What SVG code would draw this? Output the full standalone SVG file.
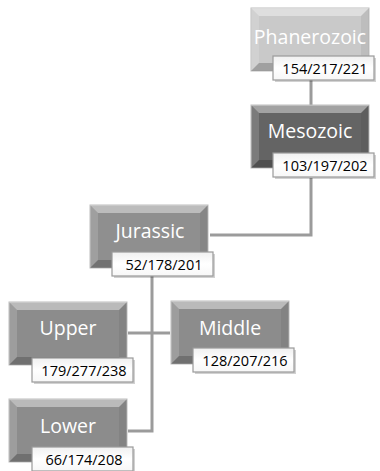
<svg xmlns="http://www.w3.org/2000/svg" width="380" height="471" viewBox="0 0 380 471">
<defs>
<style>
.bx{stroke:#bdbdbd;stroke-width:1}
.t{font-family:"Open Sans","Noto Sans","Liberation Sans",sans-serif;font-size:19.5px;fill:#ffffff;text-anchor:middle}
.lt{font-family:"Open Sans","Noto Sans","Liberation Sans",sans-serif;font-size:14.5px;fill:#000000;text-anchor:middle}
.lb{fill:url(#lg);stroke:#9a9a9a;stroke-width:1.2}
.sh{fill:#000;opacity:0.18}
.cn{fill:none;stroke:#9b9b9b;stroke-width:3}
</style>
<linearGradient id="lg" x1="0" y1="0" x2="0" y2="1">
<stop offset="0" stop-color="#f0f0f0"/>
<stop offset="0.5" stop-color="#ffffff"/>
<stop offset="1" stop-color="#f7f7f7"/>
</linearGradient>
<g id="bev">
<polygon points="0,0 118,0 110,8 8,8" fill="#fff" fill-opacity="0.4"/>
<polygon points="0,0 8,8 8,55 0,63" fill="#fff" fill-opacity="0.15"/>
<polygon points="118,0 118,63 110,55 110,8" fill="#000" fill-opacity="0.06"/>
<polygon points="0,63 8,55 110,55 118,63" fill="#000" fill-opacity="0.2"/>
</g>
<g id="lbl">
<rect x="2" y="2" width="101" height="24" class="sh"/>
<rect x="0" y="0" width="101" height="24" class="lb"/>
</g>
</defs>
<rect width="380" height="471" fill="#ffffff"/>
<g id="connectors">
<line x1="311" y1="80" x2="311" y2="105" class="cn"/>
<polyline points="311,178 311,235 210,235" class="cn"/>
<polyline points="152,276 152,431 128,431" class="cn"/>
<line x1="128" y1="333" x2="170" y2="333" class="cn"/>
</g>
<g id="phanerozoic" transform="translate(251,8)">
<rect width="118" height="63" fill="#c9c9c9" class="bx"/>
<use href="#bev"/>
<text x="59" y="36" class="t">Phanerozoic</text>
<g transform="translate(22,48)"><use href="#lbl"/><text x="52" y="17.5" class="lt">154/217/221</text></g>
</g>
<g id="mesozoic" transform="translate(251,105)">
<rect width="118" height="63" fill="#646464" class="bx"/>
<use href="#bev"/>
<text x="59" y="33" class="t">Mesozoic</text>
<g transform="translate(22,48)"><use href="#lbl"/><text x="52" y="17.5" class="lt">103/197/202</text></g>
</g>
<g id="jurassic" transform="translate(90,205)">
<rect width="118" height="63" fill="#8f8f8f" class="bx"/>
<use href="#bev"/>
<text x="60" y="33" class="t">Jurassic</text>
<g transform="translate(22,47)"><use href="#lbl"/><text x="52" y="17.5" class="lt">52/178/201</text></g>
</g>
<g id="upper" transform="translate(9,302)">
<rect width="118" height="63" fill="#8c8c8c" class="bx"/>
<use href="#bev"/>
<text x="59" y="33" class="t">Upper</text>
<g transform="translate(23,56)"><use href="#lbl"/><text x="52" y="17.5" class="lt">179/277/238</text></g>
</g>
<g id="middle" transform="translate(171,301)">
<rect width="118" height="63" fill="#8c8c8c" class="bx"/>
<use href="#bev"/>
<text x="59" y="34" class="t">Middle</text>
<g transform="translate(22,47)"><use href="#lbl"/><text x="52" y="17.5" class="lt">128/207/216</text></g>
</g>
<g id="lower" transform="translate(9,399)">
<rect width="118" height="63" fill="#8c8c8c" class="bx"/>
<use href="#bev"/>
<text x="59" y="34" class="t">Lower</text>
<g transform="translate(23,48)"><use href="#lbl"/><text x="52" y="17.5" class="lt">66/174/208</text></g>
</g>
</svg>
